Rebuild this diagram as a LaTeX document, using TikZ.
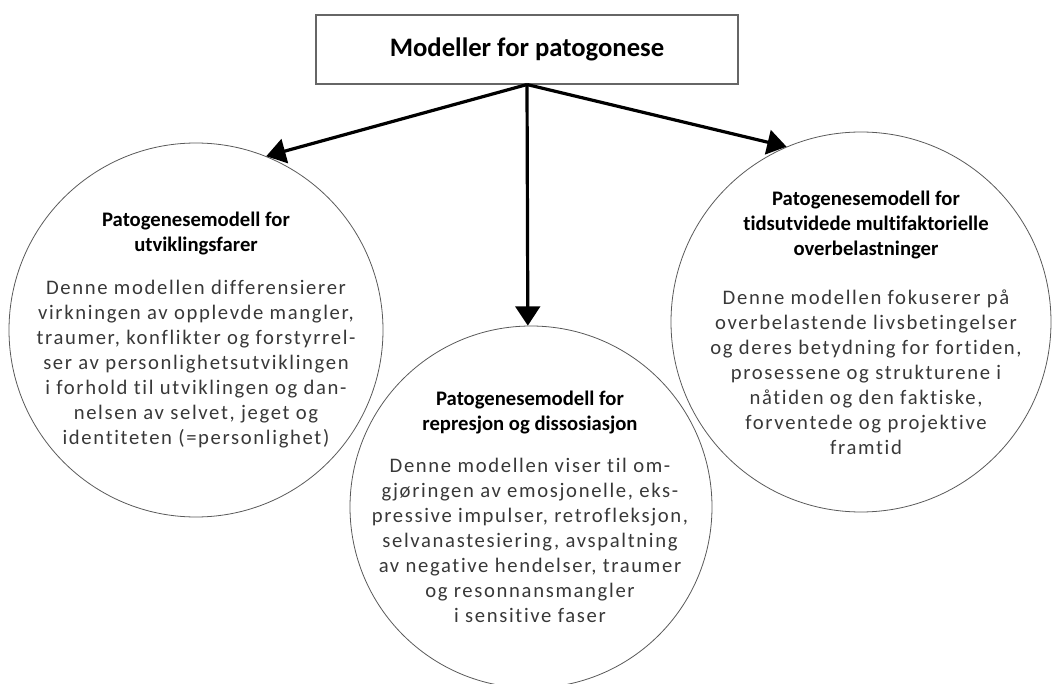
\documentclass[tikz,border=0pt]{standalone}
\usepackage{fontspec}
\setmainfont{Carlito}[Ligatures={NoCommon}]
\newfontfamily\bodyfont[LetterSpace=8,Ligatures={NoCommon}]{Carlito}
\usetikzlibrary{arrows.meta}

\newcommand{\mhead}[1]{{\normalfont\bfseries\color{black}#1}}

\begin{document}
\begin{tikzpicture}[%
    x=0.75pt, y=-0.75pt,
    titlebox/.style={
        draw=black!60,
        line width=0.8pt,
        rectangle,
        minimum width=316.5pt,
        minimum height=51.75pt,
        font=\bfseries\fontsize{20}{24}\selectfont},
    modelcircle/.style={
        draw=black!65,
        line width=0.6pt,
        circle,
        inner sep=0pt},
    modeltext/.style={
        align=center,
        inner sep=0pt,
        text=black!78,
        font=\bodyfont\fontsize{15.5}{18.75}\selectfont},
    branch/.style={
        -{Triangle[length=14.5pt,width=18.5pt]},
        line width=2.4pt}
]

\useasboundingbox (0,0) rectangle (1054,684);

\node[titlebox] (modeller) at (527,49.5) {Modeller for patogonese};

\node[modelcircle, minimum size=280.5pt] (utv) at (196,330) {};
\node[modelcircle, minimum size=271.5pt] (rep) at (531,507) {};
\node[modelcircle, minimum size=285pt]   (tid) at (861,322) {};

\node[modeltext] (utvtext) at (utv.center) {%
    \mhead{Patogenesemodell for}\\ \mhead{utviklingsfarer}\\[13.5pt]
    Denne modellen differensierer\\ virkningen av opplevde mangler,\\
    traumer, konflikter og forstyrrel-\\ ser av personlighetsutviklingen\\
    i forhold til utviklingen og dan-\\ nelsen av selvet, jeget og\\
    identiteten (=personlighet)};

\node[modeltext] (reptext) at (530,507) {%
    \mhead{Patogenesemodell for}\\ \mhead{represjon og dissosiasjon}\\[13pt]
    Denne modellen viser til om-\\ gjøringen av emosjonelle, eks-\\
    pressive impulser, retrofleksjon,\\ selvanastesiering, avspaltning\\
    av negative hendelser, traumer\\ og resonnansmangler\\
    i sensitive faser};

\node[modeltext] (tidtext) at (866,323) {%
    \mhead{Patogenesemodell for}\\ \mhead{tidsutvidede multifaktorielle}\\
    \mhead{overbelastninger}\\[18pt]
    Denne modellen fokuserer på\\ overbelastende livsbetingelser\\
    og deres betydning for fortiden,\\ prosessene og strukturene i\\
    nåtiden og den faktiske,\\ forventede og projektive\\
    framtid};

% arrows from the title box
\draw[branch] (modeller.south) -- (utv.68);
\draw[branch] (modeller.south) -- (rep.91.5);
\draw[branch] (modeller.south) -- (tid.113.6);
\end{tikzpicture}
\end{document}
